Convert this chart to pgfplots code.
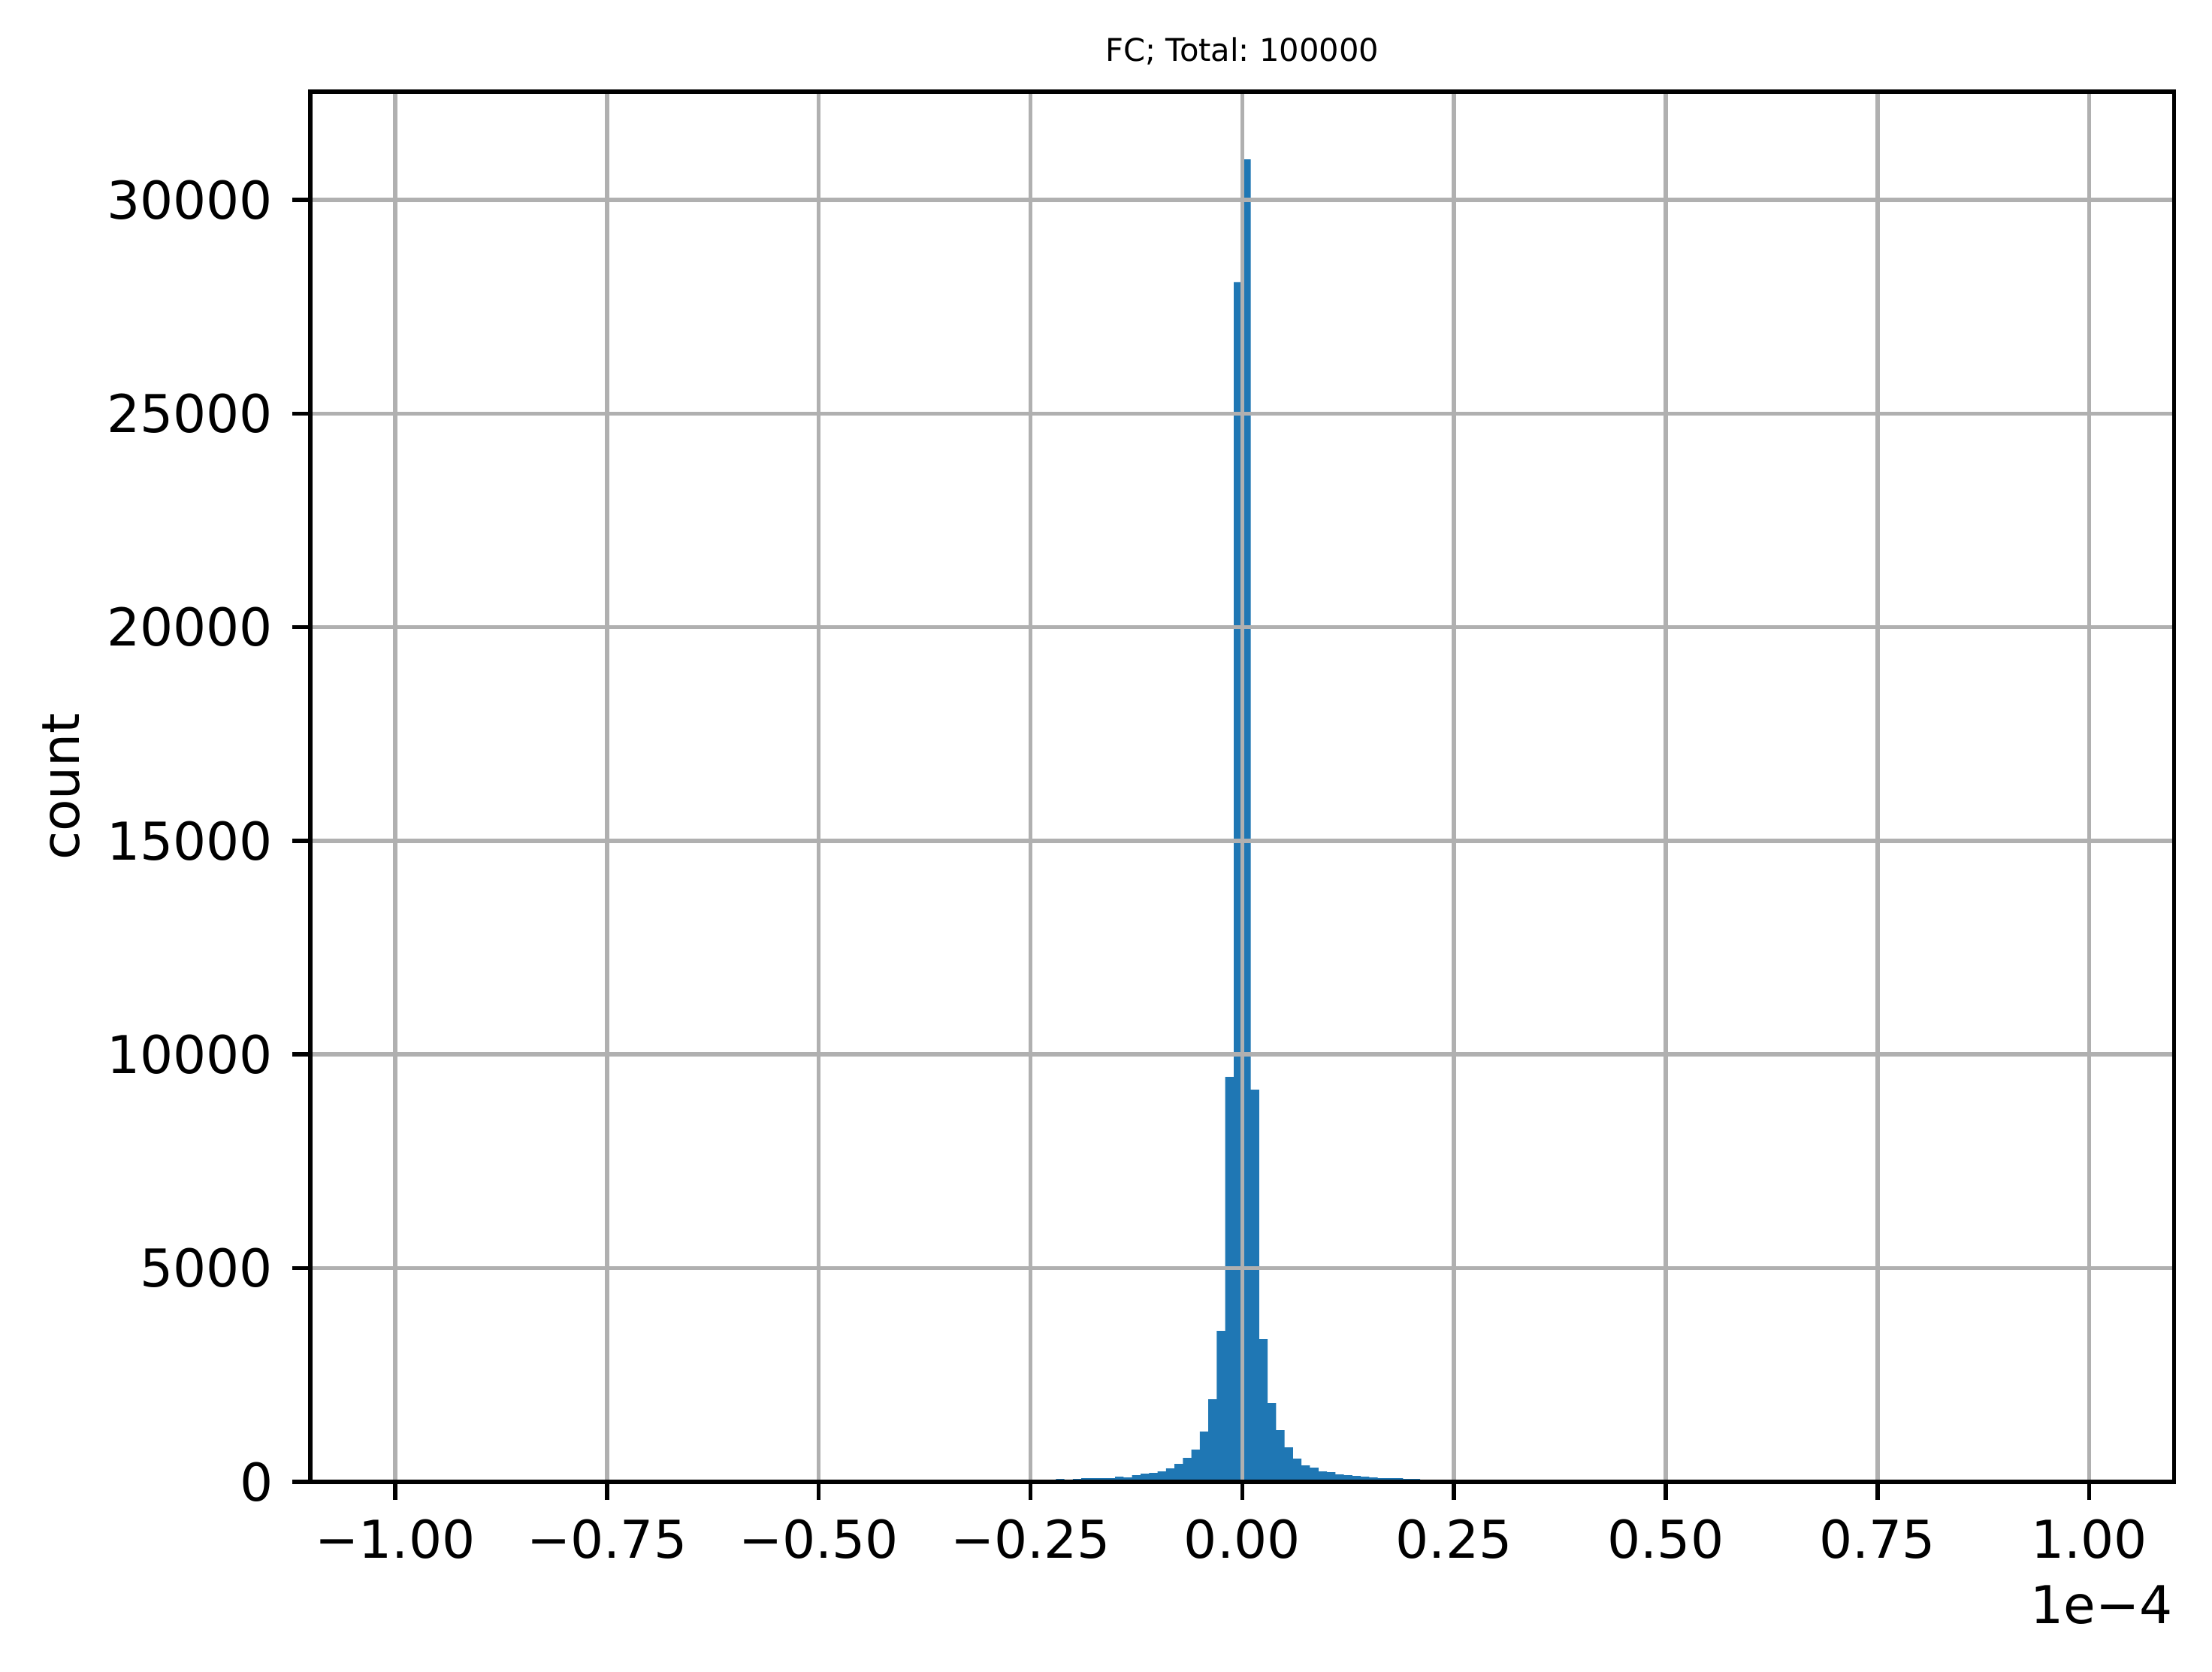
\documentclass[border=0pt]{standalone}
\usepackage{fontspec}
\setmainfont{DejaVu Sans}
\usepackage{pgfplots}
\pgfplotsset{compat=1.18}
\definecolor{barblue}{HTML}{1F77B4}
\definecolor{gridgray}{HTML}{B0B0B0}
\frenchspacing

\begin{document}
\begin{tikzpicture}
\begin{axis}[
    scale only axis,
    width=357.1pt, height=266.3pt,
    xmin=-1.1, xmax=1.1,
    ymin=0, ymax=32530,
    scaled ticks=false,
    axis on top,
    tick pos=left,
    tick align=outside,
    major tick length=3.5pt,
    every tick/.style={black, line width=0.8pt},
    axis line style={line width=0.8pt},
    grid=major,
    major grid style={gridgray, line width=0.8pt},
    xtick={-1,-0.75,-0.5,-0.25,0,0.25,0.5,0.75,1},
    xticklabels={−1.00,−0.75,−0.50,−0.25,0.00,0.25,0.50,0.75,1.00},
    ytick={0,5000,10000,15000,20000,25000,30000},
    yticklabels={0,5000,10000,15000,20000,25000,30000},
    tick label style={font=\fontsize{10}{12}\selectfont, inner sep=0pt},
    xticklabel style={anchor=north},
    yticklabel style={anchor=east},
    xticklabel shift=3.5pt,
    yticklabel shift=3.5pt,
    ylabel={count},
    ylabel style={at={(axis description cs:-0.1336,0.5)}, anchor=center,
                  font=\fontsize{10}{12}\selectfont},
]
% histogram, bin width 0.01 (x 1e-4)
\addplot[ybar interval, fill=barblue, draw=none] coordinates {
  (-0.23,5) (-0.22,64) (-0.21,5) (-0.20,64) (-0.19,82) (-0.18,82)
  (-0.17,82) (-0.16,82) (-0.15,117) (-0.14,100) (-0.13,152) (-0.12,188)
  (-0.11,205) (-0.10,240) (-0.09,311) (-0.08,416) (-0.07,557) (-0.06,750)
  (-0.05,1172) (-0.04,1929) (-0.03,3529) (-0.02,9474) (-0.01,28080)
  (0.00,30950) (0.01,9175) (0.02,3335) (0.03,1841) (0.04,1208)
  (0.05,803) (0.06,539) (0.07,381) (0.08,328) (0.09,240) (0.10,223)
  (0.11,170) (0.12,152) (0.13,135) (0.14,117) (0.15,100) (0.16,82)
  (0.17,82) (0.18,82) (0.19,64) (0.20,64) (0.21,0)
};
\end{axis}
\node[anchor=base, inner sep=0pt, font=\fontsize{6}{7}\selectfont,
      yshift=5.8pt] at (current axis.north) {FC; Total: 100000};
\node[anchor=base east, inner sep=0pt, font=\fontsize{10}{12}\selectfont,
      yshift=-27.2pt] at (current axis.south east) {1e−4};
\pgfresetboundingbox
\path ([shift={(-59.5pt,-36.4pt)}]current axis.south west)
  rectangle ([shift={(7.3pt,17.6pt)}]current axis.north east);
\end{tikzpicture}
\end{document}
